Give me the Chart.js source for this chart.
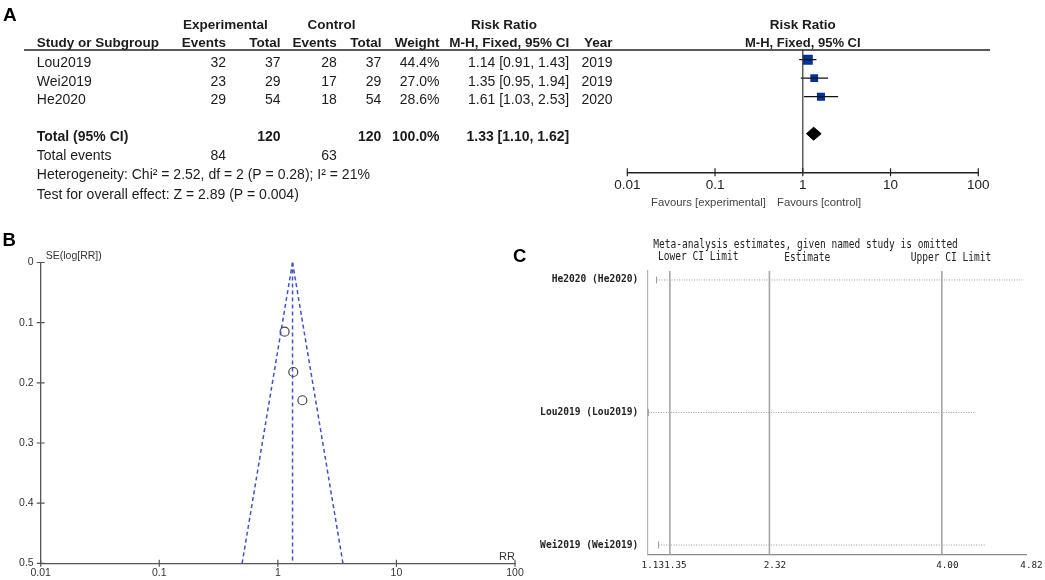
<!doctype html>
<html lang="en">
<head>
<meta charset="utf-8">
<title>Forest plot, funnel plot and leave-one-out analysis</title>
<style>
  * { margin: 0; padding: 0; }
  body { width: 1045px; height: 580px; background: #fff; position: relative; overflow: hidden; }
  canvas { position: absolute; }
  #forest { left: 0; top: 0; }
  #funnel { left: 0; top: 220px; }
  #omit { left: 530px; top: 220px; }
</style>
</head>
<body>
<canvas id="forest" width="1045" height="215"></canvas>
<canvas id="funnel" width="530" height="360"></canvas>
<canvas id="omit" width="515" height="360"></canvas>
<script src="https://cdn.jsdelivr.net/npm/chart.js/dist/chart.umd.min.js"></script>
<script>
  // ---- data (panel A) ----
  const studies = ['Lou2019', 'Wei2019', 'He2020'];
  const expEvents = [32, 23, 29];
  const expTotal = [37, 29, 54];
  const ctrlEvents = [28, 17, 18];
  const ctrlTotal = [37, 29, 54];
  const weights = [44.4, 27.0, 28.6];
  const rr = [1.14, 1.35, 1.61];
  const rrLow = [0.91, 0.95, 1.03];
  const rrHigh = [1.43, 1.94, 2.53];
  const years = [2019, 2019, 2020];
  const pooled = [1.10, 1.33, 1.62];   // low, estimate, high
  const hetStats = [2.52, 2, 0.28, 21]; // Chi2, df, P, I2
  const overall = [2.89, 0.004];        // Z, P
  const decades = [0.01, 0.1, 1, 10, 100];

  // ---- data (panel B) ----
  const funnelSE = [0.115, 0.182, 0.229];
  const funnelBase = [0.50, 3.54];      // funnel edges at SE = 0.5
  const seTicks = [0, 0.1, 0.2, 0.3, 0.4, 0.5];

  // ---- data (panel C) ----
  const omitStudies = ['He2020', 'Lou2019', 'Wei2019'];
  const omitLow = [1.22, 1.14, 1.24];
  const omitHigh = [4.79, 4.33, 4.42];
  const refLines = [1.35, 2.32, 4.00];
  const omitTicks = [1.13, 1.35, 2.32, 4.00, 4.82];

  const SANS = "'Liberation Sans', Arial, sans-serif";
  const MONO = "'DejaVu Sans Mono', monospace";
  Chart.defaults.font.family = SANS;
  Chart.defaults.plugins.legend.display = false;
  Chart.defaults.plugins.tooltip.enabled = false;
  Chart.defaults.animation = false;

  // text helper, sx squeezes the glyphs horizontally
  function txt(ctx, s, x, y, opt) {
    opt = opt || {};
    ctx.save();
    ctx.font = (opt.bold ? 'bold ' : '') + (opt.size || 14) + 'px ' + (opt.family || SANS);
    ctx.fillStyle = opt.color || '#1c1c1c';
    ctx.textAlign = opt.align || 'left';
    ctx.textBaseline = opt.base || 'middle';
    ctx.translate(x, y);
    ctx.scale(opt.sx || 1, 1);
    ctx.fillText(s, 0, 0);
    ctx.restore();
  }

  function tickCross(ctx, scale, len, color) {
    ctx.save();
    ctx.strokeStyle = color;
    ctx.lineWidth = 1.2;
    ctx.beginPath();
    scale.ticks.forEach(t => {
      const p = scale.getPixelForValue(t.value);
      if (scale.isHorizontal()) {
        ctx.moveTo(p, scale.top - len);
        ctx.lineTo(p, scale.top + len);
      } else {
        ctx.moveTo(scale.right - len, p);
        ctx.lineTo(scale.right + len, p);
      }
    });
    ctx.stroke();
    ctx.restore();
  }

  const sum = a => a.reduce((s, v) => s + v, 0);
  const ci = (e, l, h) => e.toFixed(2) + ' [' + l.toFixed(2) + ', ' + h.toFixed(2) + ']';

  // ================= Panel A : forest plot =================
  const A_YMIN = -0.524, A_YMAX = 6.086;
  const COL = { expE: 226, expT: 280.6, ctrlE: 336.8, ctrlT: 381.4, w: 439.5, ci: 569.2, year: 612.6 };

  const forestTable = {
    id: 'forestTable',
    afterDraw(chart) {
      const { ctx, chartArea, scales: { x, y } } = chart;
      const one = x.getPixelForValue(1);
      txt(ctx, 'A', 3, 21, { bold: true, size: 19, base: 'alphabetic', color: '#000' });

      const h = { bold: true, size: 13.5 };
      txt(ctx, 'Experimental', 225.3, 25, { ...h, align: 'center' });
      txt(ctx, 'Control', 331.6, 25, { ...h, align: 'center' });
      txt(ctx, 'Risk Ratio', 504, 25, { ...h, align: 'center' });
      txt(ctx, 'Risk Ratio', one, 25, { ...h, align: 'center' });
      txt(ctx, 'Study or Subgroup', 36.8, 43.3, h);
      txt(ctx, 'Events', COL.expE, 43.3, { ...h, align: 'right' });
      txt(ctx, 'Total', COL.expT, 43.3, { ...h, align: 'right' });
      txt(ctx, 'Events', COL.ctrlE, 43.3, { ...h, align: 'right' });
      txt(ctx, 'Total', COL.ctrlT, 43.3, { ...h, align: 'right' });
      txt(ctx, 'Weight', COL.w, 43.3, { ...h, align: 'right' });
      txt(ctx, 'M-H, Fixed, 95% CI', COL.ci, 43.3, { ...h, align: 'right' });
      txt(ctx, 'Year', COL.year, 43.3, { ...h, align: 'right' });
      txt(ctx, 'M-H, Fixed, 95% CI', one, 43.3, { ...h, size: 13, align: 'center' });

      ctx.save();
      ctx.strokeStyle = '#222';
      ctx.lineWidth = 1.5;
      ctx.beginPath();
      ctx.moveTo(24, chartArea.top);
      ctx.lineTo(990, chartArea.top);
      ctx.stroke();
      ctx.restore();

      const rowY = r => y.getPixelForValue(r) + 3.6;
      const r = { align: 'right' };
      studies.forEach((s, i) => {
        const yy = rowY(i);
        txt(ctx, s, 36.8, yy);
        txt(ctx, String(expEvents[i]), COL.expE, yy, r);
        txt(ctx, String(expTotal[i]), COL.expT, yy, r);
        txt(ctx, String(ctrlEvents[i]), COL.ctrlE, yy, r);
        txt(ctx, String(ctrlTotal[i]), COL.ctrlT, yy, r);
        txt(ctx, weights[i].toFixed(1) + '%', COL.w, yy, r);
        txt(ctx, ci(rr[i], rrLow[i], rrHigh[i]), COL.ci, yy, r);
        txt(ctx, String(years[i]), COL.year, yy, r);
      });

      const ty = rowY(4);
      const b = { bold: true, align: 'right' };
      txt(ctx, 'Total (95% CI)', 36.8, ty, { bold: true });
      txt(ctx, String(sum(expTotal)), COL.expT, ty, b);
      txt(ctx, String(sum(ctrlTotal)), COL.ctrlT, ty, b);
      txt(ctx, sum(weights).toFixed(1) + '%', COL.w, ty, b);
      txt(ctx, ci(pooled[1], pooled[0], pooled[2]), COL.ci, ty, b);

      txt(ctx, 'Total events', 36.8, ty + 19.3);
      txt(ctx, String(sum(expEvents)), COL.expE, ty + 19.3, r);
      txt(ctx, String(sum(ctrlEvents)), COL.ctrlE, ty + 19.3, r);
      txt(ctx, 'Heterogeneity: Chi\u00b2 = ' + hetStats[0].toFixed(2) + ', df = ' + hetStats[1] +
        ' (P = ' + hetStats[2].toFixed(2) + '); I\u00b2 = ' + hetStats[3] + '%', 36.8, ty + 38.3);
      txt(ctx, 'Test for overall effect: Z = ' + overall[0].toFixed(2) + ' (P = ' + overall[1] + ')', 36.8, ty + 57.6);

      tickCross(ctx, x, 4, '#222');
      txt(ctx, 'Favours [experimental]', 766, 203, { size: 11.3, align: 'right', color: '#444' });
      txt(ctx, 'Favours [control]', 777, 203, { size: 11.3, color: '#444' });
    }
  };

  const diamond = [
    { x: pooled[0], y: 4 }, { x: pooled[1], y: 4 - 0.35 },
    { x: pooled[2], y: 4 }, { x: pooled[1], y: 4 + 0.35 }, { x: pooled[0], y: 4 }
  ];

  new Chart(document.getElementById('forest'), {
    type: 'scatter',
    data: {
      datasets: [
        { data: [{ x: 1, y: A_YMIN }, { x: 1, y: A_YMAX }], showLine: true, borderColor: '#333', borderWidth: 1.2, pointRadius: 0 },
        ...studies.map((s, i) => ({
          data: [{ x: rrLow[i], y: i }, { x: rrHigh[i], y: i }],
          showLine: true, borderColor: '#111', borderWidth: 1.3, pointRadius: 0
        })),
        {
          data: rr.map((v, i) => ({ x: v, y: i })),
          pointStyle: 'rect',
          pointRadius: c => 1.06 * Math.sqrt(weights[c.dataIndex]),
          backgroundColor: '#003399', borderColor: '#003399', borderWidth: 0
        },
        { data: diamond, showLine: true, fill: 'shape', backgroundColor: '#000', borderColor: '#000', borderWidth: 1, pointRadius: 0 }
      ]
    },
    options: {
      responsive: false,
      layout: { padding: { left: 627.3, right: 66.7, top: 50, bottom: 0 } },
      scales: {
        x: {
          type: 'logarithmic', min: 0.01, max: 100,
          afterBuildTicks: s => { s.ticks = decades.map(v => ({ value: v })); },
          afterFit: s => { s.height = 42.7; },
          grid: { display: false, drawTicks: false },
          border: { display: true, color: '#222', width: 1.5 },
          ticks: { autoSkip: false, maxRotation: 0, padding: 5, color: '#222', font: { size: 13.5 }, callback: v => String(v) }
        },
        y: { type: 'linear', display: false, reverse: true, min: A_YMIN, max: A_YMAX }
      }
    },
    plugins: [forestTable]
  });

  // ================= Panel B : funnel plot =================
  const funnelDeco = {
    id: 'funnelDeco',
    afterDraw(chart) {
      const { ctx, scales: { x, y } } = chart;
      tickCross(ctx, x, 3.5, '#555');
      tickCross(ctx, y, 4, '#555');
      txt(ctx, 'SE(log[RR])', 45.7, 36, { size: 10.5, color: '#333' });
      txt(ctx, 'RR', x.right, 336.5, { size: 11, color: '#333', align: 'right' });
      txt(ctx, 'B', 2.5, 26, { bold: true, size: 18.5, base: 'alphabetic', color: '#000' });
      txt(ctx, 'C', 513, 41.7, { bold: true, size: 18.5, base: 'alphabetic', color: '#000' });
    }
  };

  const dashed = { showLine: true, borderColor: '#3f52c6', borderWidth: 1.5, borderDash: [4, 3], pointRadius: 0 };

  new Chart(document.getElementById('funnel'), {
    type: 'scatter',
    data: {
      datasets: [
        { ...dashed, data: [{ x: pooled[1], y: 0 }, { x: funnelBase[0], y: 0.5 }] },
        { ...dashed, data: [{ x: pooled[1], y: 0 }, { x: funnelBase[1], y: 0.5 }] },
        { ...dashed, data: [{ x: pooled[1], y: 0 }, { x: pooled[1], y: 0.5 }] },
        {
          data: rr.map((v, i) => ({ x: v, y: funnelSE[i] })),
          pointStyle: 'circle', pointRadius: 4.5, borderColor: '#444', borderWidth: 1.2,
          backgroundColor: 'rgba(0,0,0,0)'
        }
      ]
    },
    options: {
      responsive: false,
      layout: { padding: { left: 0, right: 15, top: 42.5, bottom: 0 } },
      scales: {
        x: {
          type: 'logarithmic', min: 0.01, max: 100,
          afterBuildTicks: s => { s.ticks = decades.map(v => ({ value: v })); },
          afterFit: s => { s.height = 16.7; },
          grid: { display: false, drawTicks: false },
          border: { display: true, color: '#555', width: 1.3 },
          ticks: { autoSkip: false, maxRotation: 0, padding: 3.5, color: '#333', font: { size: 10.5 }, callback: v => String(v) }
        },
        y: {
          type: 'linear', reverse: true, min: 0, max: 0.5,
          afterBuildTicks: s => { s.ticks = seTicks.map(v => ({ value: v })); },
          afterFit: s => { s.width = 40.7; },
          grid: { display: false, drawTicks: false },
          border: { display: true, color: '#555', width: 1.3 },
          ticks: { padding: 7, color: '#333', font: { size: 10.5 }, callback: v => String(v) }
        }
      }
    },
    plugins: [funnelDeco]
  });

  // ================= Panel C : leave-one-out =================
  const C_YMIN = -0.070, C_YMAX = 2.073;

  const omitTitles = {
    id: 'omitTitles',
    afterDraw(chart) {
      const { ctx } = chart;
      const m = { family: MONO, size: 11.5, sx: 0.83, color: '#222' };
      txt(ctx, 'Meta-analysis estimates, given named study is omitted', 123.3, 25, m);
      txt(ctx, 'Lower CI Limit', 128, 37.5, m);
      txt(ctx, 'Estimate', 254.3, 37.7, m);
      txt(ctx, 'Upper CI Limit', 380.7, 38.3, m);
    }
  };

  new Chart(document.getElementById('omit'), {
    type: 'scatter',
    data: {
      datasets: [
        ...refLines.map(v => ({
          data: [{ x: v, y: C_YMIN }, { x: v, y: C_YMAX }],
          showLine: true, borderColor: '#a6a6a6', borderWidth: 1.6, pointRadius: 0
        })),
        ...omitStudies.map((s, i) => ({
          data: [{ x: omitLow[i], y: i }, { x: omitHigh[i], y: i }],
          showLine: true, borderColor: '#9a9a9a', borderWidth: 1, borderDash: [1, 1.5],
          pointStyle: 'line', rotation: 90, pointRadius: c => (c.dataIndex === 0 ? 3.5 : 0)
        }))
      ]
    },
    options: {
      responsive: false,
      layout: { padding: { left: 0, right: 19, top: 50.7, bottom: 0 } },
      scales: {
        x: {
          type: 'linear', min: 1.13, max: 4.82,
          afterBuildTicks: s => { s.ticks = omitTicks.map(v => ({ value: v })); },
          afterFit: s => { s.height = 25.3; },
          grid: { display: false, drawTicks: false },
          border: { display: true, color: '#8a8a8a', width: 1.3 },
          ticks: { autoSkip: false, maxRotation: 0, padding: 5, labelOffset: 5.5, color: '#222', font: { family: MONO, size: 9.3 }, callback: v => v.toFixed(2) }
        },
        y: {
          type: 'linear', reverse: true, min: C_YMIN, max: C_YMAX,
          afterBuildTicks: s => { s.ticks = omitStudies.map((_, i) => ({ value: i })); },
          afterFit: s => { s.width = 117.3; },
          grid: { display: false, drawTicks: false },
          border: { display: true, color: '#b3b3b3', width: 1.2 },
          ticks: { padding: 9, color: '#222', font: { family: MONO, size: 9.6, weight: 'bold' }, callback: v => omitStudies[v] + ' (' + omitStudies[v] + ')' }
        }
      }
    },
    plugins: [omitTitles]
  });
</script>
</body>
</html>
